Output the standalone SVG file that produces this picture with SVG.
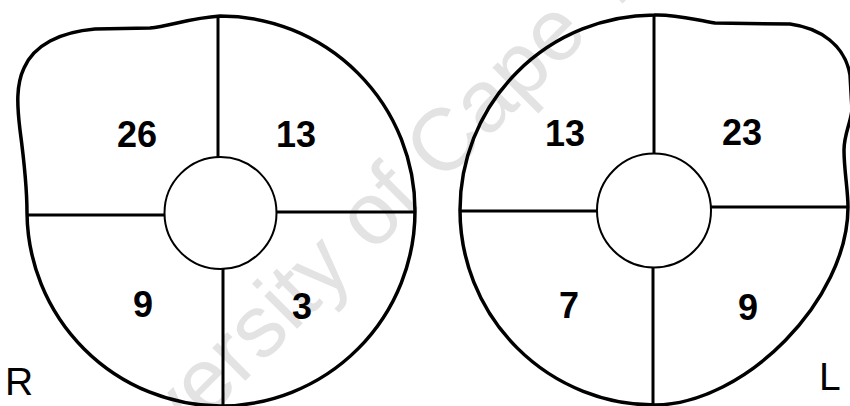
<svg xmlns="http://www.w3.org/2000/svg" width="850" height="406" viewBox="0 0 850 406">
<style>
.outline{fill:none;stroke:#000;stroke-width:3.5;stroke-linejoin:round;stroke-linecap:round}
.div{stroke:#000;stroke-width:3;fill:none}
.inner{fill:none;stroke:#000;stroke-width:2}
.num{font-family:"Liberation Sans",Arial,sans-serif;font-weight:bold;font-size:36px;fill:#000;text-anchor:middle}
.side{font-family:"Liberation Sans",Arial,sans-serif;font-size:39px;fill:#000}
.wm{font-family:"Liberation Sans",Arial,sans-serif;font-size:88px;fill:#e3e3e3}
</style>
<rect width="850" height="406" fill="#fff"/>
<text class="wm" x="82" y="544" transform="rotate(-45 82 544)">University of Cape Town</text>

<g id="eye-R">
  <path class="outline" d="M220,16 A195,195 0 0 1 220,406 A195,195 0 0 1 27,213 C27,185 24,160 20,130 C17,105 16,85 24,68 C34,45 60,32 95,29 L150,28 C170,26 190,18 220,16 Z"/>
  <circle class="inner" cx="220.5" cy="213" r="56"/>
  <g id="eye-R-dividers">
    <line class="div" x1="218" y1="16" x2="218" y2="157" stroke-width="3.5"/>
    <line class="div" x1="223" y1="269" x2="223" y2="406" stroke-width="2.5"/>
    <line class="div" x1="27" y1="215" x2="165" y2="215"/>
    <line class="div" x1="276" y1="212" x2="415" y2="212"/>
  </g>
  <text class="num" x="137" y="147">26</text>
  <text class="num" x="296" y="147">13</text>
  <text class="num" x="143" y="317">9</text>
  <text class="num" x="302" y="319">3</text>
  <text class="side" x="5" y="395">R</text>
</g>

<g id="eye-L">
  <path class="outline" d="M654,15 C675,14 695,20 715,23 L790,24 C820,28 845,45 850,75 L852,110 C850,125 844,135 844,150 C844,170 848,190 848,207 C848,300 745,404 655,405 A195,195 0 0 1 460,210 A195,195 0 0 1 654,15 Z"/>
  <circle class="inner" cx="654" cy="210.5" r="57"/>
  <g id="eye-L-dividers">
    <line class="div" x1="654" y1="15" x2="654" y2="154" stroke-width="3.5"/>
    <line class="div" x1="653" y1="267" x2="653" y2="405"/>
    <line class="div" x1="460" y1="211" x2="598" y2="211"/>
    <line class="div" x1="710" y1="207" x2="848" y2="207"/>
  </g>
  <text class="num" x="565" y="146">13</text>
  <text class="num" x="742" y="145">23</text>
  <text class="num" x="569" y="318">7</text>
  <text class="num" x="748" y="320">9</text>
  <text class="side" x="819" y="390">L</text>
</g>
</svg>
